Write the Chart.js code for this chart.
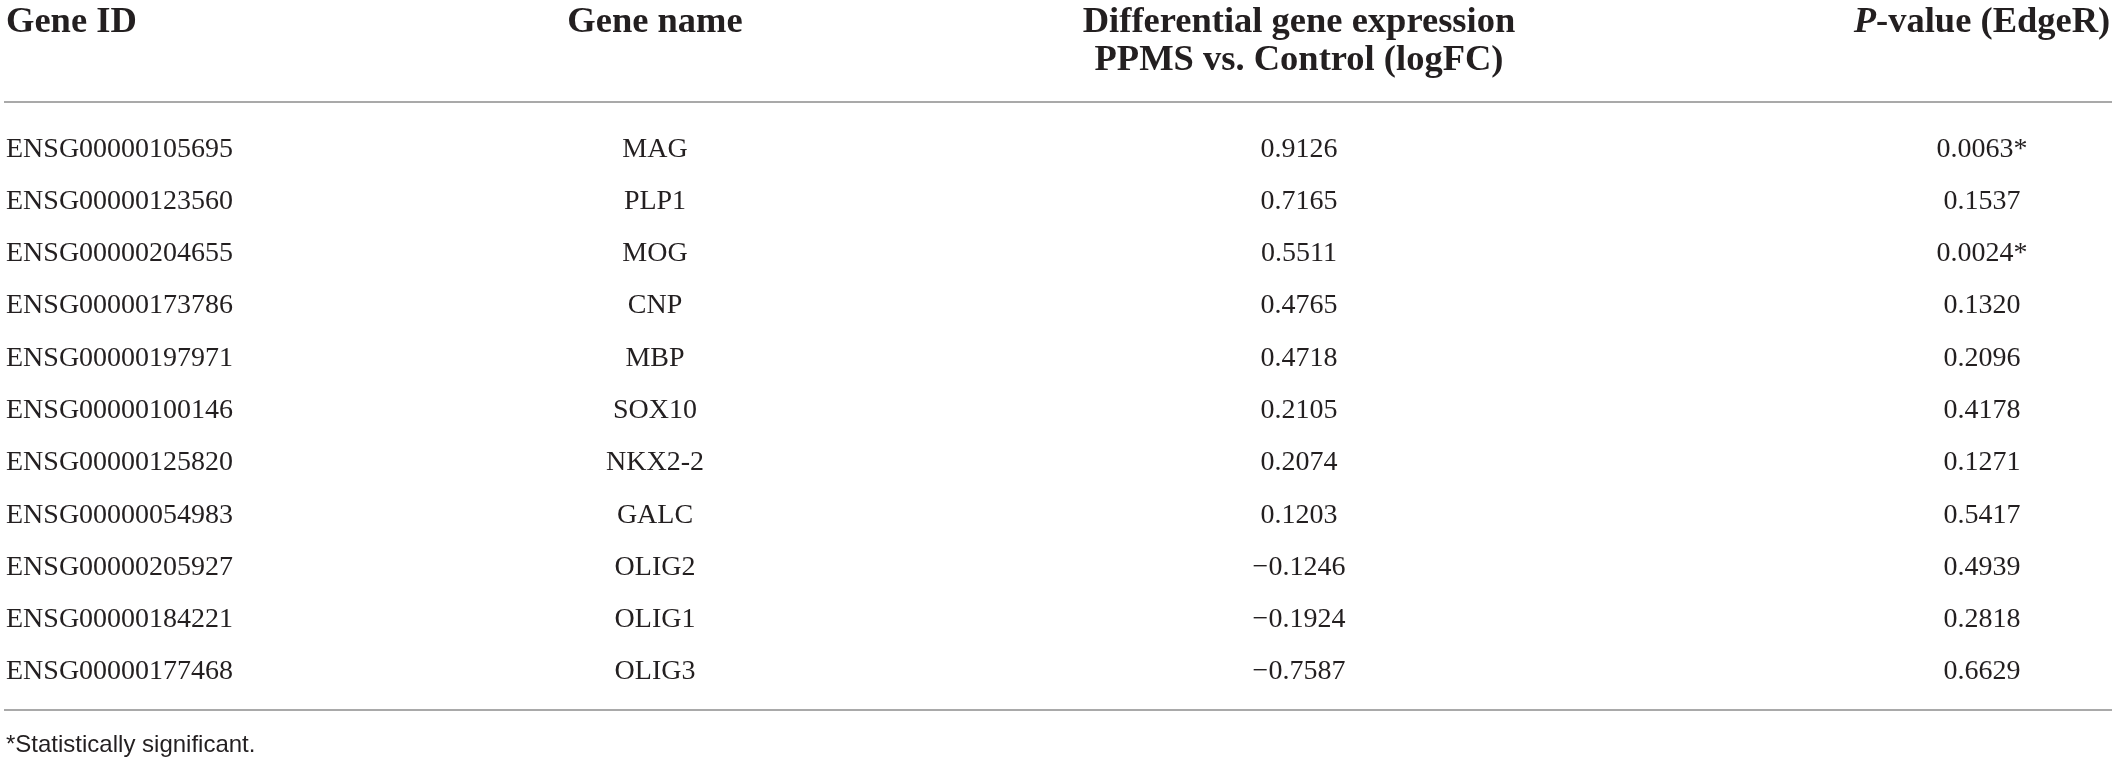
<!DOCTYPE html>
<html>
<head>
<meta charset="utf-8">
<script src="https://cdn.jsdelivr.net/npm/chart.js@4"></script>
<style>
  html, body { margin: 0; padding: 0; background: #ffffff; }
  #wrap { width: 2117px; height: 764px; position: relative; }
</style>
</head>
<body>
<div id="wrap"><canvas id="c"></canvas></div>
<script>
// ---- data ----
const geneIds = ["ENSG00000105695","ENSG00000123560","ENSG00000204655","ENSG00000173786","ENSG00000197971","ENSG00000100146","ENSG00000125820","ENSG00000054983","ENSG00000205927","ENSG00000184221","ENSG00000177468"];
const geneNames = ["MAG","PLP1","MOG","CNP","MBP","SOX10","NKX2-2","GALC","OLIG2","OLIG1","OLIG3"];
const logFC = [0.9126, 0.7165, 0.5511, 0.4765, 0.4718, 0.2105, 0.2074, 0.1203, -0.1246, -0.1924, -0.7587];
const pValues = [0.0063, 0.1537, 0.0024, 0.1320, 0.2096, 0.4178, 0.1271, 0.5417, 0.4939, 0.2818, 0.6629];
const significant = [true, false, true, false, false, false, false, false, false, false, false];
const headers = ["Gene ID", "Gene name", ["Differential gene expression", "PPMS vs. Control (logFC)"], "P-value (EdgeR)"];
const footnote = "*Statistically significant.";

// ---- layout / style ----
const COLS = [
  { x: 6,    align: "left"   },
  { x: 655,  align: "center" },
  { x: 1299, align: "center" },
  { x: 1982, align: "center" }
];
const TEXT = "#231f20";
const RULE = "#a9a9a9";
const BODY_FONT = "28px 'Liberation Serif', 'Times New Roman', serif";
const HEAD_FONT = "bold 36.5px 'Liberation Serif', 'Times New Roman', serif";
const HEAD_FONT_I = "italic bold 36.5px 'Liberation Serif', 'Times New Roman', serif";
const FOOT_FONT = "24px 'Liberation Sans', Arial, sans-serif";

function fmt(v) { return v.toFixed(4).replace("-", "\u2212"); }

const tablePlugin = {
  id: "tablePlugin",
  afterDraw(chart) {
    const ctx = chart.ctx;
    const xs = chart.scales.x, ys = chart.scales.y;
    const area = chart.chartArea;
    ctx.save();
    ctx.fillStyle = TEXT;
    ctx.textBaseline = "alphabetic";

    // headers
    const hb = area.top - 89; // header baseline
    ctx.font = HEAD_FONT;
    ctx.textAlign = "left";
    ctx.fillText(headers[0], xs.getPixelForValue(COLS[0].x), hb);
    ctx.textAlign = "center";
    ctx.fillText(headers[1], xs.getPixelForValue(COLS[1].x), hb);
    ctx.fillText(headers[2][0], xs.getPixelForValue(COLS[2].x), hb);
    ctx.fillText(headers[2][1], xs.getPixelForValue(COLS[2].x), hb + 38);
    // P-value with italic P
    const pPart = headers[3].slice(0, 1), rest = headers[3].slice(1);
    ctx.font = HEAD_FONT_I; const wP = ctx.measureText(pPart).width;
    ctx.font = HEAD_FONT; const wR = ctx.measureText(rest).width;
    const px0 = xs.getPixelForValue(COLS[3].x) - (wP + wR) / 2;
    ctx.textAlign = "left";
    ctx.font = HEAD_FONT_I; ctx.fillText(pPart, px0, hb);
    ctx.font = HEAD_FONT; ctx.fillText(rest, px0 + wP, hb);

    // rules
    ctx.strokeStyle = RULE;
    ctx.lineWidth = 2;
    ctx.beginPath();
    ctx.moveTo(area.left + 4, area.top - 19); ctx.lineTo(area.right - 5, area.top - 19);
    ctx.moveTo(area.left + 4, area.bottom + 14); ctx.lineTo(area.right - 5, area.bottom + 14);
    ctx.stroke();

    // body rows
    ctx.font = BODY_FONT;
    for (let i = 0; i < geneIds.length; i++) {
      const y = ys.getPixelForValue(i) + 9.5;
      const cells = [geneIds[i], geneNames[i], fmt(logFC[i]), pValues[i].toFixed(4) + (significant[i] ? "*" : "")];
      cells.forEach((t, c) => {
        ctx.textAlign = COLS[c].align;
        ctx.fillText(t, xs.getPixelForValue(COLS[c].x), y);
      });
    }

    // footnote
    ctx.font = FOOT_FONT;
    ctx.textAlign = "left";
    ctx.fillText(footnote, xs.getPixelForValue(COLS[0].x), area.bottom + 56);
    ctx.restore();
  }
};

new Chart(document.getElementById("c"), {
  type: "scatter",
  data: {
    labels: geneIds,
    datasets: [{
      data: logFC.map((v, i) => ({ x: COLS[2].x, y: geneIds[i] })),
      pointRadius: 0,
      pointHoverRadius: 0,
      showLine: false
    }]
  },
  options: {
    responsive: true,
    maintainAspectRatio: false,
    animation: false,
    events: [],
    layout: { padding: { top: 121, bottom: 68, left: 0, right: 0 } },
    plugins: { legend: { display: false }, tooltip: { enabled: false } },
    scales: {
      x: { type: "linear", min: 0, max: 2117, display: false },
      y: { type: "category", labels: geneIds, offset: true, display: false, grid: { display: false } }
    }
  },
  plugins: [tablePlugin]
});
</script>
</body>
</html>
